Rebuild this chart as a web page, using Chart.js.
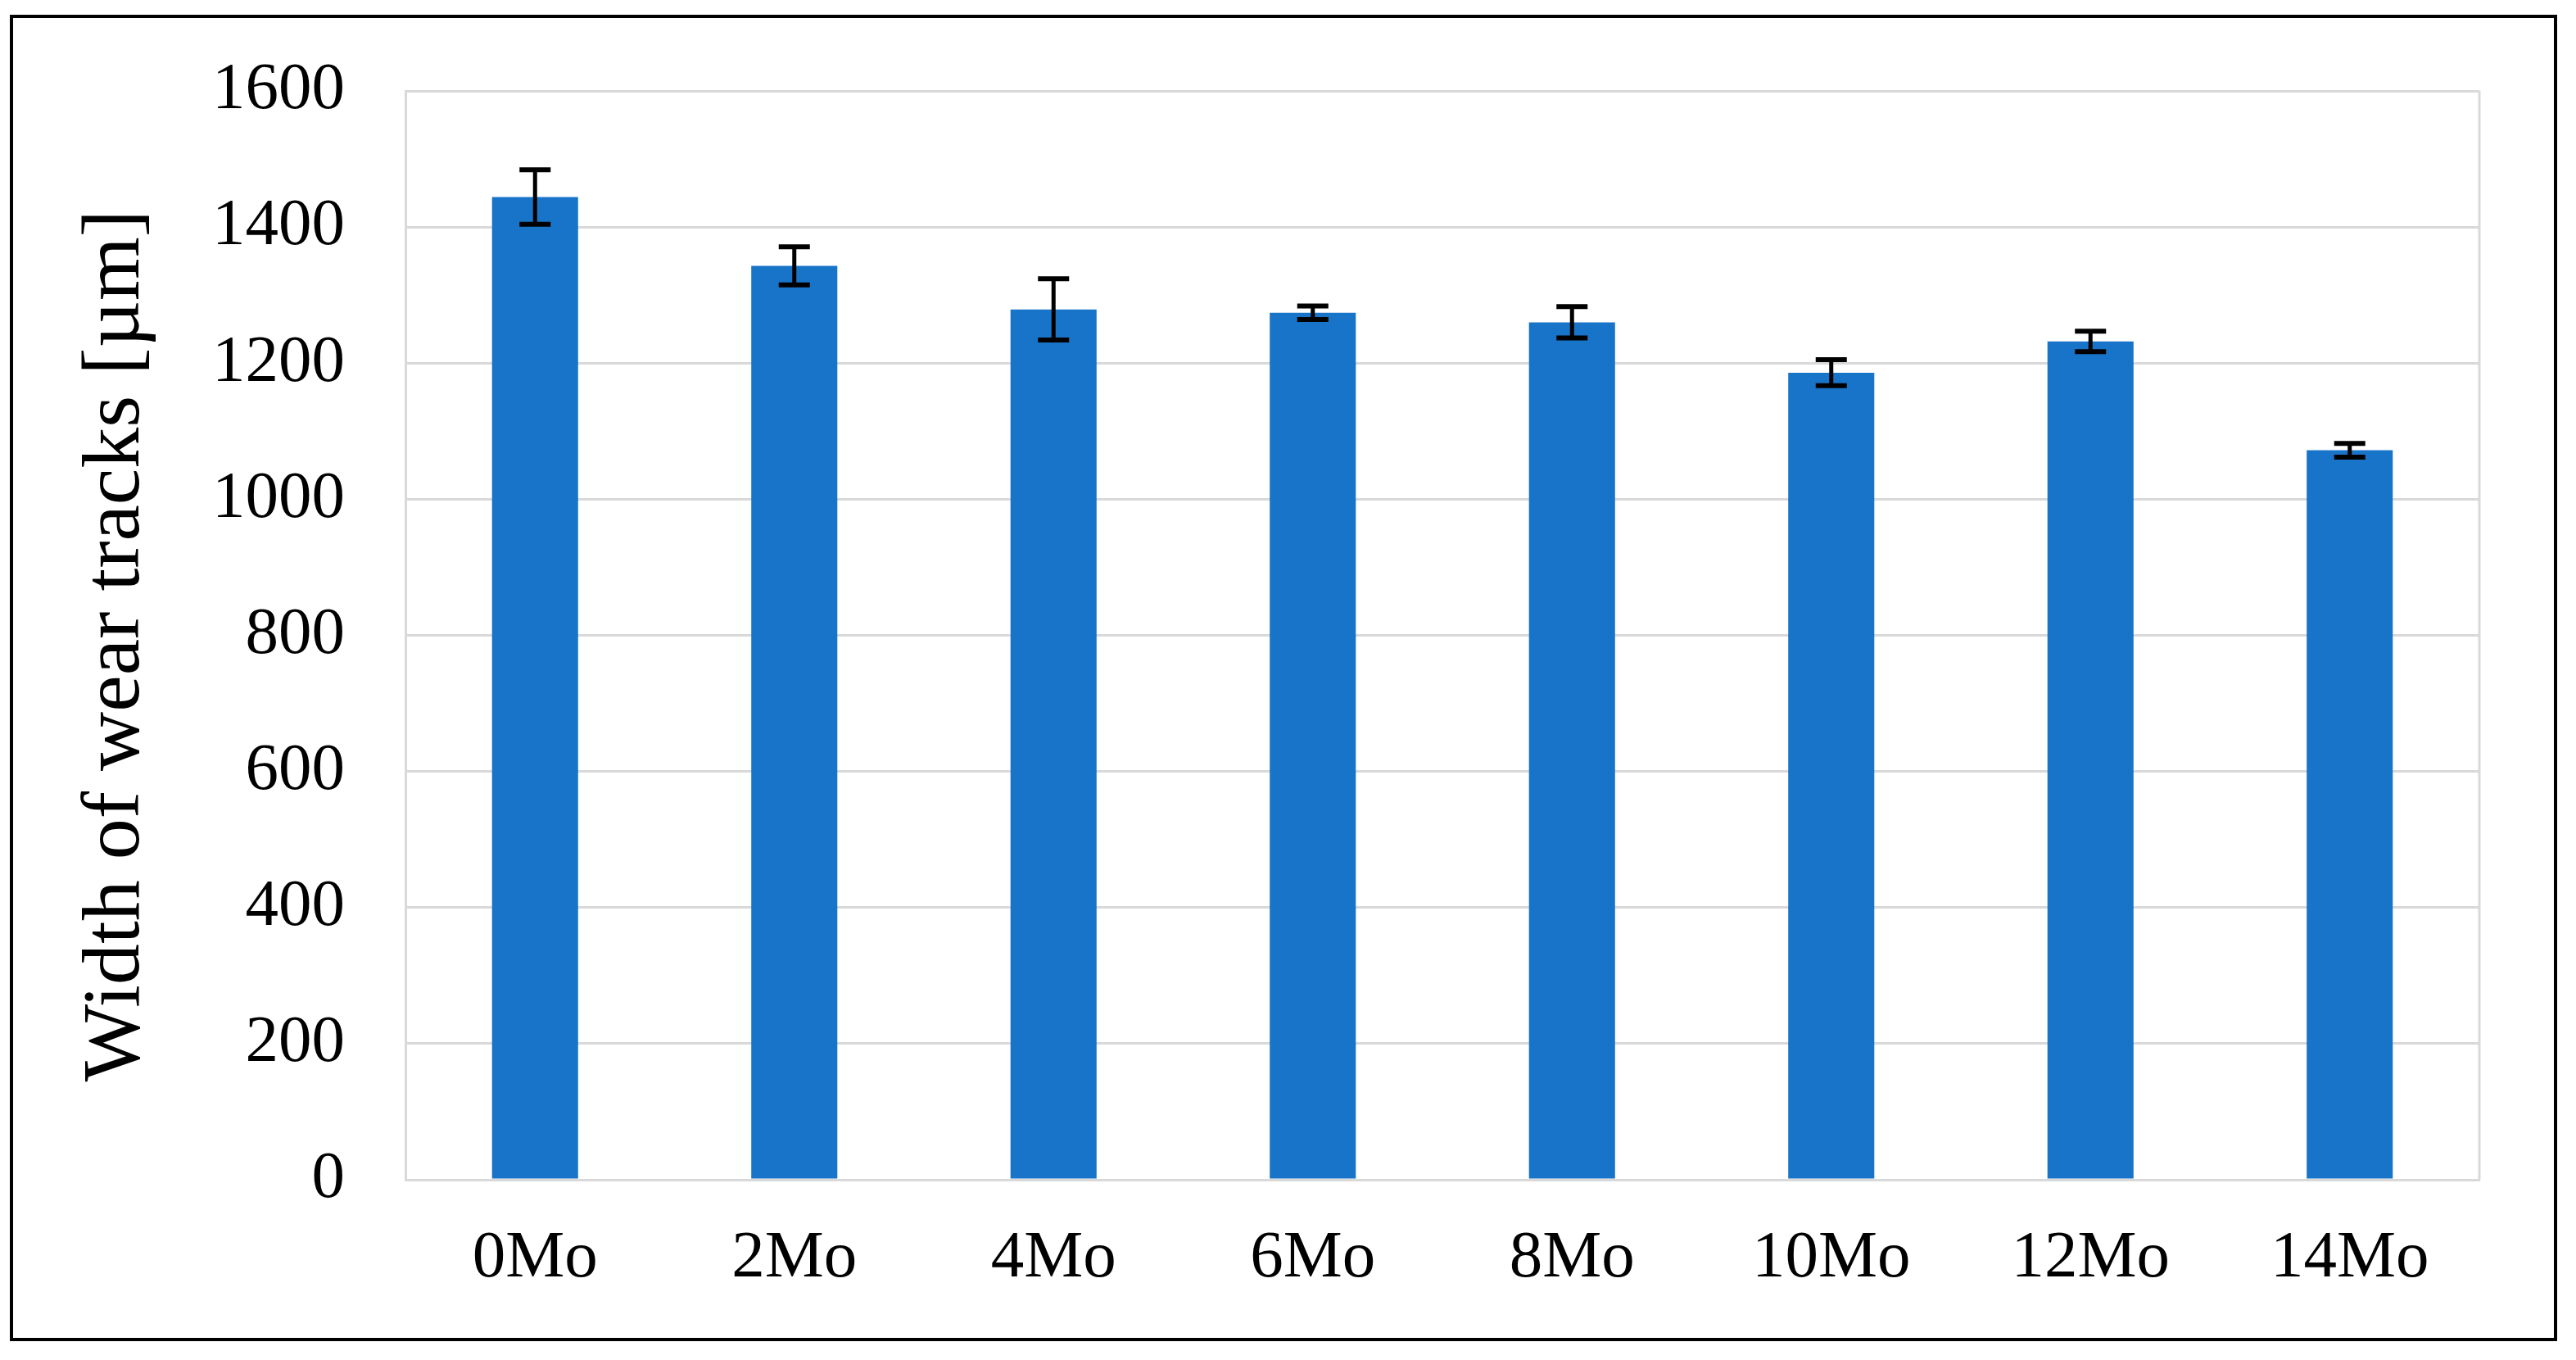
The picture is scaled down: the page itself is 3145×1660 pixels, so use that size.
<!DOCTYPE html>
<html>
<head>
<meta charset="utf-8">
<script src="https://cdn.jsdelivr.net/npm/chart.js@4/dist/chart.umd.min.js"></script>
<style>
  html, body { margin: 0; padding: 0; background: #ffffff; }
  #wrap { width: 3145px; height: 1660px; position: relative; }
  canvas { display: block; }
</style>
</head>
<body>
<div id="wrap"><canvas id="c" width="3145" height="1660"></canvas></div>
<script>
// ---- data ----
const categories = ['0Mo', '2Mo', '4Mo', '6Mo', '8Mo', '10Mo', '12Mo', '14Mo'];
const widthValues = [1444, 1343, 1279, 1274, 1260, 1186, 1232, 1072];
const widthErrors = [40, 28, 45, 10, 23, 19, 15, 10];
const yTicks = [0, 200, 400, 600, 800, 1000, 1200, 1400, 1600];
const yTitle = 'Width of wear tracks [µm]';

Chart.defaults.font.family = "'Liberation Serif', 'Times New Roman', serif";
Chart.defaults.color = '#000000';

const GRID = '#d9d9d9';

const frameAndErrors = {
  id: 'frameAndErrors',
  beforeDraw(chart) {
    const ctx = chart.ctx;
    ctx.save();
    ctx.fillStyle = '#ffffff';
    ctx.fillRect(0, 0, chart.width, chart.height);
    ctx.restore();
  },
  afterDatasetsDraw(chart) {
    const ctx = chart.ctx;
    const ys = chart.scales.y;
    const meta = chart.getDatasetMeta(0);
    ctx.save();
    ctx.strokeStyle = '#000000';
    meta.data.forEach((bar, i) => {
      const v = widthValues[i], e = widthErrors[i];
      const yt = ys.getPixelForValue(v + e);
      const yb = ys.getPixelForValue(v - e);
      const x = bar.x;
      ctx.lineWidth = 5;
      ctx.beginPath();
      ctx.moveTo(x, yt); ctx.lineTo(x, yb);
      ctx.stroke();
      ctx.lineWidth = 6;
      ctx.beginPath();
      ctx.moveTo(x - 19, yt); ctx.lineTo(x + 19, yt);
      ctx.moveTo(x - 19, yb); ctx.lineTo(x + 19, yb);
      ctx.stroke();
    });
    ctx.restore();
  },
  afterDraw(chart) {
    const ctx = chart.ctx;
    const a = chart.chartArea;
    ctx.save();
    ctx.strokeStyle = GRID;
    ctx.lineWidth = 3;
    ctx.beginPath();
    ctx.moveTo(a.right, a.top);
    ctx.lineTo(a.right, a.bottom);
    ctx.stroke();
    ctx.strokeStyle = '#000000';
    ctx.lineWidth = 4;
    ctx.strokeRect(14, 20, 3106, 1615);
    ctx.restore();
  }
};

new Chart(document.getElementById('c'), {
  type: 'bar',
  data: {
    labels: categories,
    datasets: [{
      data: widthValues,
      backgroundColor: '#1874c9',
      borderWidth: 0,
      barPercentage: 0.332,
      categoryPercentage: 1.0
    }]
  },
  options: {
    responsive: false,
    animation: false,
    devicePixelRatio: 1,
    layout: { padding: { left: 0, right: 118, top: 111, bottom: 0 } },
    plugins: {
      legend: { display: false },
      tooltip: { enabled: false }
    },
    scales: {
      x: {
        grid: { display: false, drawTicks: false },
        border: { display: true, color: GRID, width: 3 },
        ticks: { font: { size: 81 }, padding: 48, color: '#000000', maxRotation: 0, autoSkip: false },
        afterFit(s) { s.height = 220; s.paddingLeft = 0; s.paddingRight = 0; }
      },
      y: {
        min: 0,
        max: 1600,
        afterBuildTicks(s) { s.ticks = yTicks.map(v => ({ value: v })); },
        grid: { color: GRID, lineWidth: 3, drawTicks: false },
        border: { display: true, color: GRID, width: 3 },
        ticks: {
          font: { size: 81 },
          padding: 74,
          color: '#000000',
          callback: (v) => String(v)
        },
        title: {
          display: true,
          text: yTitle + ' ',
          font: { size: 100 },
          color: '#000000',
          padding: { top: 83, bottom: 0 }
        },
        afterFit(s) { s.width = 495; s.paddingTop = 0; s.paddingBottom = 0; }
      }
    }
  },
  plugins: [frameAndErrors]
});
</script>
</body>
</html>
